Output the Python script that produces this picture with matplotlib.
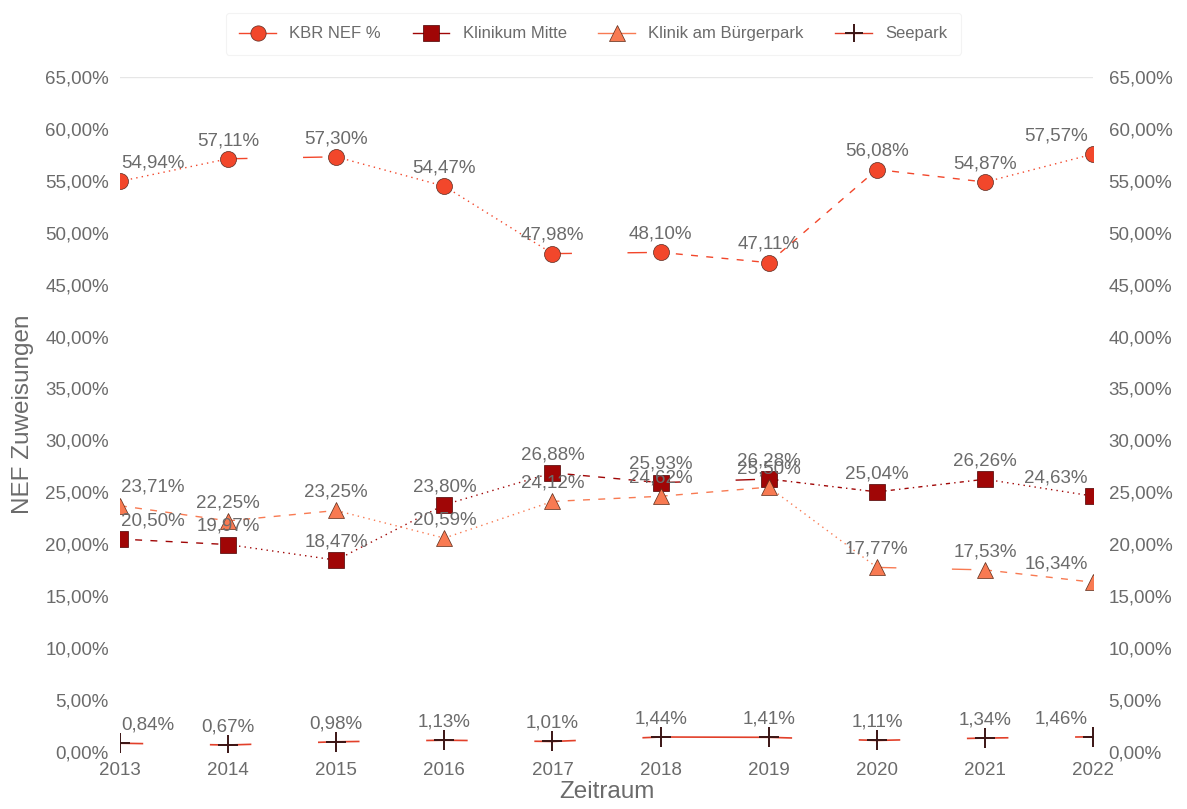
import matplotlib
matplotlib.use('Agg')
import matplotlib.pyplot as plt
from matplotlib.ticker import FuncFormatter, MultipleLocator
from matplotlib.lines import Line2D

# daten
jahre = [2013, 2014, 2015, 2016, 2017, 2018, 2019, 2020, 2021, 2022]
kbr_nef = [54.94, 57.11, 57.30, 54.47, 47.98, 48.10, 47.11, 56.08, 54.87, 57.57]
klinikum_mitte = [20.50, 19.97, 18.47, 23.80, 26.88, 25.93, 26.28, 25.04, 26.26, 24.63]
buergerpark = [23.71, 22.25, 23.25, 20.59, 24.12, 24.62, 25.50, 17.77, 17.53, 16.34]
seepark = [0.84, 0.67, 0.98, 1.13, 1.01, 1.44, 1.41, 1.11, 1.34, 1.46]

GRAU = '#6b6b6b'
plt.rcParams['font.family'] = ['Liberation Sans', 'DejaVu Sans']

# linienstile pro segment (das original wechselt sie wild)
STIL_A = (0, (1, 3))        # gepunktet
STIL_B = (0, (14, 40))      # lang, luecke
STIL_C = (0, (5, 6))        # gestrichelt
STIL_D = (0, (3, 3, 1, 3))  # strich-punkt


def fmt(v):
  return f'{v:.2f}%'.replace('.', ',')


def zeichne(ax, werte, farbe, marker, ms, stile, kante, lw=1.0, mew=0.5):
  for i in range(len(jahre) - 1):
    ax.plot(jahre[i:i + 2], werte[i:i + 2], color=farbe, lw=lw,
            linestyle=stile[i % len(stile)], zorder=2)
  ax.plot(jahre, werte, linestyle='none', marker=marker, ms=ms,
          color=farbe, markeredgecolor=kante, markeredgewidth=mew, zorder=3)


def beschrifte(ax, werte, dy=9):
  for i, (x, v) in enumerate(zip(jahre, werte)):
    ha = 'center'
    dx = 0
    if i == 0:
      ha, dx = 'left', 1
    elif i == len(jahre) - 1:
      ha, dx = 'right', -4
    ax.annotate(fmt(v), (x, v), xytext=(dx, dy), textcoords='offset points',
                ha=ha, va='bottom', fontsize=13.5, color=GRAU, zorder=5,
                annotation_clip=False)


fig = plt.figure(figsize=(11.87, 8.09), dpi=100)
ax = fig.add_axes([0.101, 0.0705, 0.82, 0.8345])

zeichne(ax, kbr_nef, '#F2472B', 'o', 11.5,
        [STIL_A, STIL_B, STIL_A, STIL_A, STIL_B, STIL_C, STIL_C, STIL_C, STIL_A], '#5a2a20')
zeichne(ax, klinikum_mitte, '#A00606', 's', 12,
        [STIL_C, STIL_A, STIL_A, STIL_A, STIL_C, STIL_B, STIL_D, STIL_D, STIL_A], '#4a0000')
zeichne(ax, buergerpark, '#F87A52', '^', 12,
        [STIL_C, STIL_C, STIL_A, STIL_A, STIL_C, STIL_C, STIL_A, STIL_B, STIL_C], '#5a2a18')
zeichne(ax, seepark, '#E2402A', '+', 15,
        [STIL_B, STIL_B, STIL_B, STIL_B, STIL_B, '-', STIL_B, STIL_B, STIL_B], '#3b1515',
        lw=1.2, mew=1.4)

beschrifte(ax, kbr_nef, dy=7)
beschrifte(ax, klinikum_mitte, dy=7)
beschrifte(ax, buergerpark, dy=7)
beschrifte(ax, seepark, dy=7)

ax.set_xlim(2013, 2022)
ax.set_ylim(0, 65)
ax.yaxis.set_major_locator(MultipleLocator(5))
ax.yaxis.set_major_formatter(FuncFormatter(lambda v, p: fmt(v)))
ax.set_xticks(jahre)
ax.axhline(65, color='#e6e6e6', lw=1, zorder=0)

for s in ax.spines.values():
  s.set_visible(False)
ax.tick_params(axis='x', length=0, labelsize=13.5, colors=GRAU, pad=7)
ax.tick_params(axis='y', length=0, labelsize=13.5, colors=GRAU, pad=8)

ax2 = ax.twinx()
ax2.set_ylim(ax.get_ylim())
ax2.yaxis.set_major_locator(MultipleLocator(5))
ax2.yaxis.set_major_formatter(FuncFormatter(lambda v, p: fmt(v)))
for s in ax2.spines.values():
  s.set_visible(False)
ax2.tick_params(axis='y', length=0, labelsize=13.5, colors=GRAU, pad=11)

ax.set_ylabel('NEF Zuweisungen', fontsize=17.5, color=GRAU, labelpad=8)
ax.set_xlabel('Zeitraum', fontsize=17.5, color=GRAU, labelpad=2)

# legende
griffe = [
  Line2D([], [], color='#F2472B', marker='o', ms=11, markeredgecolor='#5a2a20', mew=0.5, lw=1),
  Line2D([], [], color='#A00606', marker='s', ms=11, markeredgecolor='#4a0000', mew=0.5, lw=1),
  Line2D([], [], color='#F87A52', marker='^', ms=11, markeredgecolor='#5a2a18', mew=0.5, lw=1),
  Line2D([], [], color='#E2402A', marker='+', ms=13, markeredgecolor='#3b1515', mew=1.4, lw=1),
]
namen = ['KBR NEF %', 'Klinikum Mitte', 'Klinik am Bürgerpark', 'Seepark']
leg = fig.legend(griffe, namen, loc='center', bbox_to_anchor=(0.5, 0.958), ncol=4,
                 fontsize=12, frameon=True, fancybox=True, handlelength=2.2,
                 columnspacing=1.9, labelcolor=GRAU, borderpad=0.8)
leg.get_frame().set_edgecolor('#f0f0f0')
leg.get_frame().set_linewidth(0.8)

plt.savefig('out.png', dpi=100)
plt.close()
